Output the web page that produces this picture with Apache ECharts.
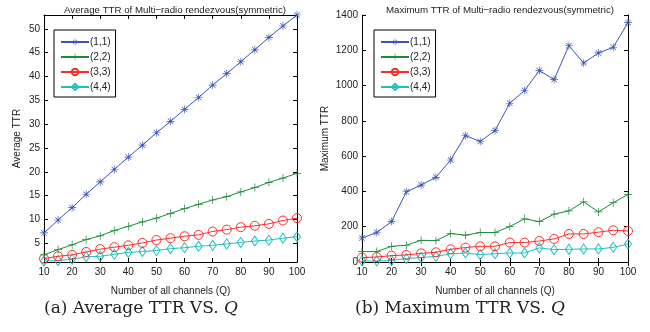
<!DOCTYPE html>
<html>
<head>
<meta charset="utf-8">
<script src="https://cdn.jsdelivr.net/npm/echarts@6/dist/echarts.min.js"></script>
<style>
html, body { margin: 0; padding: 0; background: #fff; }
#main { width: 650px; height: 332px; }
</style>
</head>
<body>
<div id="main"></div>
<script>
// channels Q
var channels = [10, 15, 20, 25, 30, 35, 40, 45, 50, 55, 60, 65, 70, 75, 80, 85, 90, 95, 100];
var seriesNames = ['(1,1)', '(2,2)', '(3,3)', '(4,4)'];

// average TTR
var avg11 = [7.2, 9.9, 12.5, 15.3, 17.9, 20.5, 23.1, 25.6, 28.2, 30.6, 33.1, 35.6, 38.2, 40.6, 43.1, 45.6, 48.2, 50.6, 52.9];
var avg22 = [2.6, 3.7, 4.7, 5.8, 6.6, 7.7, 8.6, 9.5, 10.3, 11.3, 12.3, 13.2, 14.1, 14.8, 15.8, 16.7, 17.8, 18.7, 19.7];
var avg33 = [1.8, 2.3, 2.6, 3.2, 3.8, 4.2, 4.6, 5.1, 5.7, 6.1, 6.5, 6.8, 7.5, 7.9, 8.4, 8.7, 9.1, 9.8, 10.3];
var avg44 = [1.3, 1.4, 1.7, 2.2, 2.3, 2.7, 3.1, 3.3, 3.5, 3.9, 4.1, 4.4, 4.6, 4.9, 5.2, 5.5, 5.7, 6.1, 6.4];

// maximum TTR
var max11 = [136, 167, 229, 398, 436, 480, 578, 717, 683, 745, 900, 972, 1085, 1034, 1226, 1128, 1185, 1217, 1357];
var max22 = [59, 59, 89, 95, 123, 121, 161, 152, 167, 167, 201, 245, 229, 271, 290, 341, 284, 336, 383];
var max33 = [25, 28, 36, 40, 49, 55, 72, 82, 89, 89, 110, 110, 119, 131, 159, 159, 169, 180, 176];
var max44 = [6, 6, 9, 19, 25, 32, 47, 51, 42, 47, 51, 51, 80, 70, 72, 74, 74, 83, 102];

var avgTicks = [5, 10, 15, 20, 25, 30, 35, 40, 45, 50];

var colors = ['#3c56b8', '#1e8a3c', '#ff2a2a', '#22bfbf'];
var asterisk = 'path://M4.6,0h0.8v10h-0.8z M0,4.6h10v0.8h-10z M1.3,1.9l0.6,-0.6l6.8,6.8l-0.6,0.6z M8.1,1.3l0.6,0.6l-6.8,6.8l-0.6,-0.6z M3.6,3.6h2.8v2.8h-2.8z';
var plus = 'path://M4.55,0h0.9v10h-0.9z M0,4.55h10v0.9h-10z';
var symbols = [asterisk, plus, 'circle', 'diamond'];
var symbolSizes = [8, 8, [9, 9], [7, 10]];

function pairs(ys) {
	return channels.map(function (q, i) { return [q, ys[i]]; });
}

function makeSeries(idx, data, k) {
	var hollow = k >= 2;
	return {
		name : seriesNames[k],
		type : 'line',
		xAxisIndex : idx * 2,
		yAxisIndex : idx * 2,
		data : pairs(data),
		symbol : symbols[k],
		symbolSize : symbolSizes[k],
		showAllSymbol : true,
		lineStyle : { color : colors[k], width : 1 },
		itemStyle : hollow
			? { color : 'rgba(255,255,255,0)', borderColor : colors[k], borderWidth : 1 }
			: { color : colors[k], borderWidth : 0 },
		emphasis : { disabled : true },
		animation : false,
		z : 5 - k
	};
}

var sans = 'Liberation Sans, Arial, sans-serif';
var labelFont = { fontFamily : sans, fontSize : 10, color : '#222' };

function xAxes(gridIndex) {
	return [{
		gridIndex : gridIndex,
		type : 'value',
		min : 10, max : 100, interval : 10,
		name : 'Number of all channels (Q)',
		nameLocation : 'middle',
		nameGap : 24,
		nameTextStyle : { fontFamily : sans, fontSize : 10, color : '#222' },
		axisLine : { lineStyle : { color : '#000', width : 1 } },
		axisTick : { inside : true, length : 4, lineStyle : { color : '#000' } },
		axisLabel : Object.assign({ margin : 5 }, labelFont),
		splitLine : { show : false }
	}, {
		gridIndex : gridIndex,
		type : 'value',
		position : 'top',
		min : 10, max : 100, interval : 10,
		axisLine : { show : true, lineStyle : { color : '#000', width : 1 } },
		axisTick : { inside : true, length : 4, lineStyle : { color : '#000' } },
		axisLabel : { show : false },
		splitLine : { show : false }
	}];
}

function yAxes(gridIndex, cfg) {
	var main = {
		gridIndex : gridIndex,
		type : 'value',
		min : cfg.min, max : cfg.max,
		name : cfg.name,
		nameLocation : 'middle',
		nameGap : cfg.nameGap,
		nameTextStyle : { fontFamily : sans, fontSize : 10, color : '#222' },
		axisLine : { lineStyle : { color : '#000', width : 1 } },
		axisTick : { inside : true, length : 4, lineStyle : { color : '#000' } },
		axisLabel : Object.assign({ margin : 4, formatter : function (v) { return String(v); } }, labelFont),
		splitLine : { show : false }
	};
	var side = {
		gridIndex : gridIndex,
		type : 'value',
		position : 'right',
		min : cfg.min, max : cfg.max,
		axisLine : { show : true, lineStyle : { color : '#000', width : 1 } },
		axisTick : { inside : true, length : 4, lineStyle : { color : '#000' } },
		axisLabel : { show : false },
		splitLine : { show : false }
	};
	if (cfg.ticks) {
		main.axisTick.customValues = cfg.ticks;
		main.axisLabel.customValues = cfg.ticks;
		side.axisTick.customValues = cfg.ticks;
	} else {
		main.interval = cfg.interval;
		side.interval = cfg.interval;
	}
	return [main, side];
}

function legendFor(left) {
	return {
		data : seriesNames,
		orient : 'vertical',
		left : left,
		top : 30,
		padding : [7, 5, 5, 6],
		itemWidth : 28,
		itemHeight : 8,
		itemGap : 5,
		borderColor : '#000',
		borderWidth : 1,
		backgroundColor : '#fff',
		selectedMode : false,
		textStyle : { fontFamily : sans, fontSize : 10, color : '#222', padding : [0, 0, 0, -4] }
	};
}

function titleFor(text, left) {
	return {
		text : text,
		left : left,
		top : 0,
		textAlign : 'center',
		textStyle : { fontFamily : sans, fontSize : 9.7, fontWeight : 'normal', color : '#222' }
	};
}

var captionRich = {
	n : { fontFamily : 'DejaVu Serif, serif', fontSize : 17, fill : '#222' },
	q : { fontFamily : 'DejaVu Serif, serif', fontSize : 17, fontStyle : 'italic', fill : '#222' }
};

var option = {
	backgroundColor : '#fff',
	animation : false,
	title : [
		titleFor('Average TTR of Multi\u2212radio rendezvous(symmetric)', 170),
		titleFor('Maximum TTR of Multi\u2212radio rendezvous(symmetric)', 495)
	],
	legend : [legendFor(54), legendFor(374)],
	grid : [
		{ left : 44, right : 353, top : 15, bottom : 70 },
		{ left : 362, right : 22, top : 15, bottom : 70 }
	],
	xAxis : xAxes(0).concat(xAxes(1)),
	yAxis : yAxes(0, { min : 1.1, max : 52.9, ticks : avgTicks, name : 'Average TTR', nameGap : 22 })
		.concat(yAxes(1, { min : 0, max : 1400, interval : 200, name : 'Maximum TTR', nameGap : 32 })),
	series : [
		makeSeries(0, avg11, 0), makeSeries(0, avg22, 1), makeSeries(0, avg33, 2), makeSeries(0, avg44, 3),
		makeSeries(1, max11, 0), makeSeries(1, max22, 1), makeSeries(1, max33, 2), makeSeries(1, max44, 3)
	],
	graphic : [{
		type : 'text',
		left : 44,
		top : 300,
		style : { text : '{n|(a) Average TTR VS. }{q|Q}', rich : captionRich }
	}, {
		type : 'text',
		left : 355,
		top : 300,
		style : { text : '{n|(b) Maximum TTR VS. }{q|Q}', rich : captionRich }
	}]
};

var myChart = echarts.init(document.getElementById('main'), null, { renderer : 'canvas' });
myChart.setOption(option);
</script>
</body>
</html>
